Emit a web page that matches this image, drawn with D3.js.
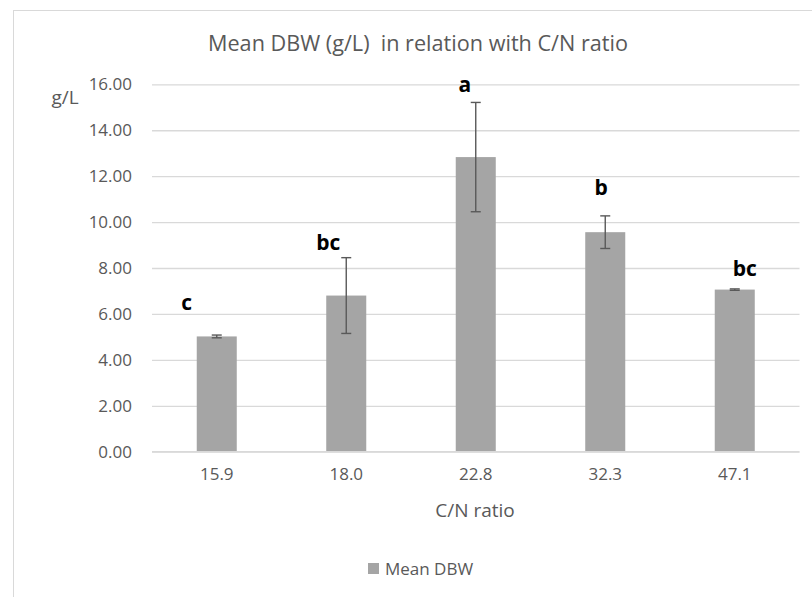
<!DOCTYPE html>
<html>
<head>
<meta charset="utf-8">
<script src="https://cdn.jsdelivr.net/npm/d3@7"></script>
<style>
  html, body { margin: 0; padding: 0; background: #fff; }
  svg { display: block; font-family: "Open Sans", "Noto Sans", sans-serif; }
</style>
</head>
<body>
<svg id="chart" width="812" height="597"></svg>
<script>
// ---- data ----
const categories = ["15.9", "18.0", "22.8", "32.3", "47.1"];
const meanDBW = [5.02, 6.80, 12.83, 9.56, 7.06];
const errDBW = [0.06, 1.65, 2.38, 0.71, 0.03];
const groupLetters = ["c", "bc", "a", "b", "bc"];
const letterLevels = [6.52, 9.14, 16.0, 11.52, 8.02];   // letter centre, in g/L
const yTicks = [0, 2, 4, 6, 8, 10, 12, 14, 16];

// ---- layout ----
const svg = d3.select("#chart");
const plot = { left: 152, right: 799.5, top: 84.3, bottom: 451.7 };
const letterDx = [-30, -18, -11, -4, 10];

const x = d3.scaleBand().domain(categories)
  .range([plot.left, plot.right]).paddingInner(0.691).paddingOuter(0.3455);
const y = d3.scaleLinear().domain([0, 16]).range([plot.bottom, plot.top]);

// chart border
svg.append("rect").attr("x", 13.5).attr("y", 10.5).attr("width", 812).attr("height", 620)
  .attr("fill", "none").attr("stroke", "#d9d9d9").attr("stroke-width", 1);

// title
svg.append("text").attr("x", 418).attr("y", 43).attr("text-anchor", "middle")
  .attr("dominant-baseline", "central").attr("fill", "#595959").attr("font-size", 21)
  .style("white-space", "pre")
  .attr("textLength", 420).attr("lengthAdjust", "spacingAndGlyphs")
  .text("Mean DBW (g/L)  in relation with C/N ratio");

// gridlines + y axis labels
const yAxis = d3.axisLeft(y).tickValues(yTicks).tickFormat(d3.format(".2f"))
  .tickSize(-(plot.right - plot.left)).tickPadding(20);
const gy = svg.append("g").attr("transform", `translate(${plot.left},0)`).call(yAxis);
gy.select(".domain").remove();
gy.selectAll(".tick line").attr("stroke", "#d9d9d9").attr("stroke-width", 1.3);
gy.selectAll(".tick text").attr("fill", "#595959").attr("font-size", 17)
  .attr("font-family", "'Open Sans', sans-serif");

// y unit label
svg.append("text").attr("x", 65).attr("y", 97).attr("text-anchor", "middle")
  .attr("dominant-baseline", "central").attr("fill", "#595959").attr("font-size", 19)
  .text("g/L");

// bars
svg.append("g").selectAll("rect").data(categories).join("rect")
  .attr("x", d => x(d)).attr("width", x.bandwidth())
  .attr("y", (d, i) => y(meanDBW[i]))
  .attr("height", (d, i) => y(0) - y(meanDBW[i]))
  .attr("fill", "#a5a5a5");

// x axis line (baseline)
svg.append("line").attr("x1", plot.left).attr("x2", plot.right)
  .attr("y1", y(0)).attr("y2", y(0)).attr("stroke", "#d9d9d9").attr("stroke-width", 1.5);

// error bars
const eg = svg.append("g").attr("stroke", "#595959").attr("stroke-width", 1.4);
categories.forEach((c, i) => {
  const cx = x(c) + x.bandwidth() / 2;
  const hi = y(meanDBW[i] + errDBW[i]), lo = y(meanDBW[i] - errDBW[i]);
  eg.append("line").attr("x1", cx).attr("x2", cx).attr("y1", hi).attr("y2", lo);
  eg.append("line").attr("x1", cx - 5).attr("x2", cx + 5).attr("y1", hi).attr("y2", hi);
  eg.append("line").attr("x1", cx - 5).attr("x2", cx + 5).attr("y1", lo).attr("y2", lo);
});

// group letters
svg.append("g").selectAll("text").data(groupLetters).join("text")
  .attr("x", (d, i) => x(categories[i]) + x.bandwidth() / 2 + letterDx[i])
  .attr("y", (d, i) => y(letterLevels[i]))
  .attr("text-anchor", "middle").attr("dominant-baseline", "central")
  .attr("font-size", 21).attr("font-weight", "bold").attr("fill", "#000")
  .text(d => d);

// x axis labels
const xAxis = d3.axisBottom(x).tickSize(0).tickPadding(16);
const gx = svg.append("g").attr("transform", `translate(0,${y(0)})`).call(xAxis);
gx.select(".domain").remove();
gx.selectAll(".tick text").attr("fill", "#595959").attr("font-size", 17)
  .attr("font-family", "'Open Sans', sans-serif");

// x axis title
svg.append("text").attr("x", 475).attr("y", 510).attr("text-anchor", "middle")
  .attr("dominant-baseline", "central").attr("fill", "#595959").attr("font-size", 19)
  .text("C/N ratio");

// legend
svg.append("rect").attr("x", 368).attr("y", 563).attr("width", 11).attr("height", 11)
  .attr("fill", "#a5a5a5");
svg.append("text").attr("x", 385).attr("y", 568.5)
  .attr("dominant-baseline", "central").attr("fill", "#595959").attr("font-size", 17)
  .text("Mean DBW");
</script>
</body>
</html>
